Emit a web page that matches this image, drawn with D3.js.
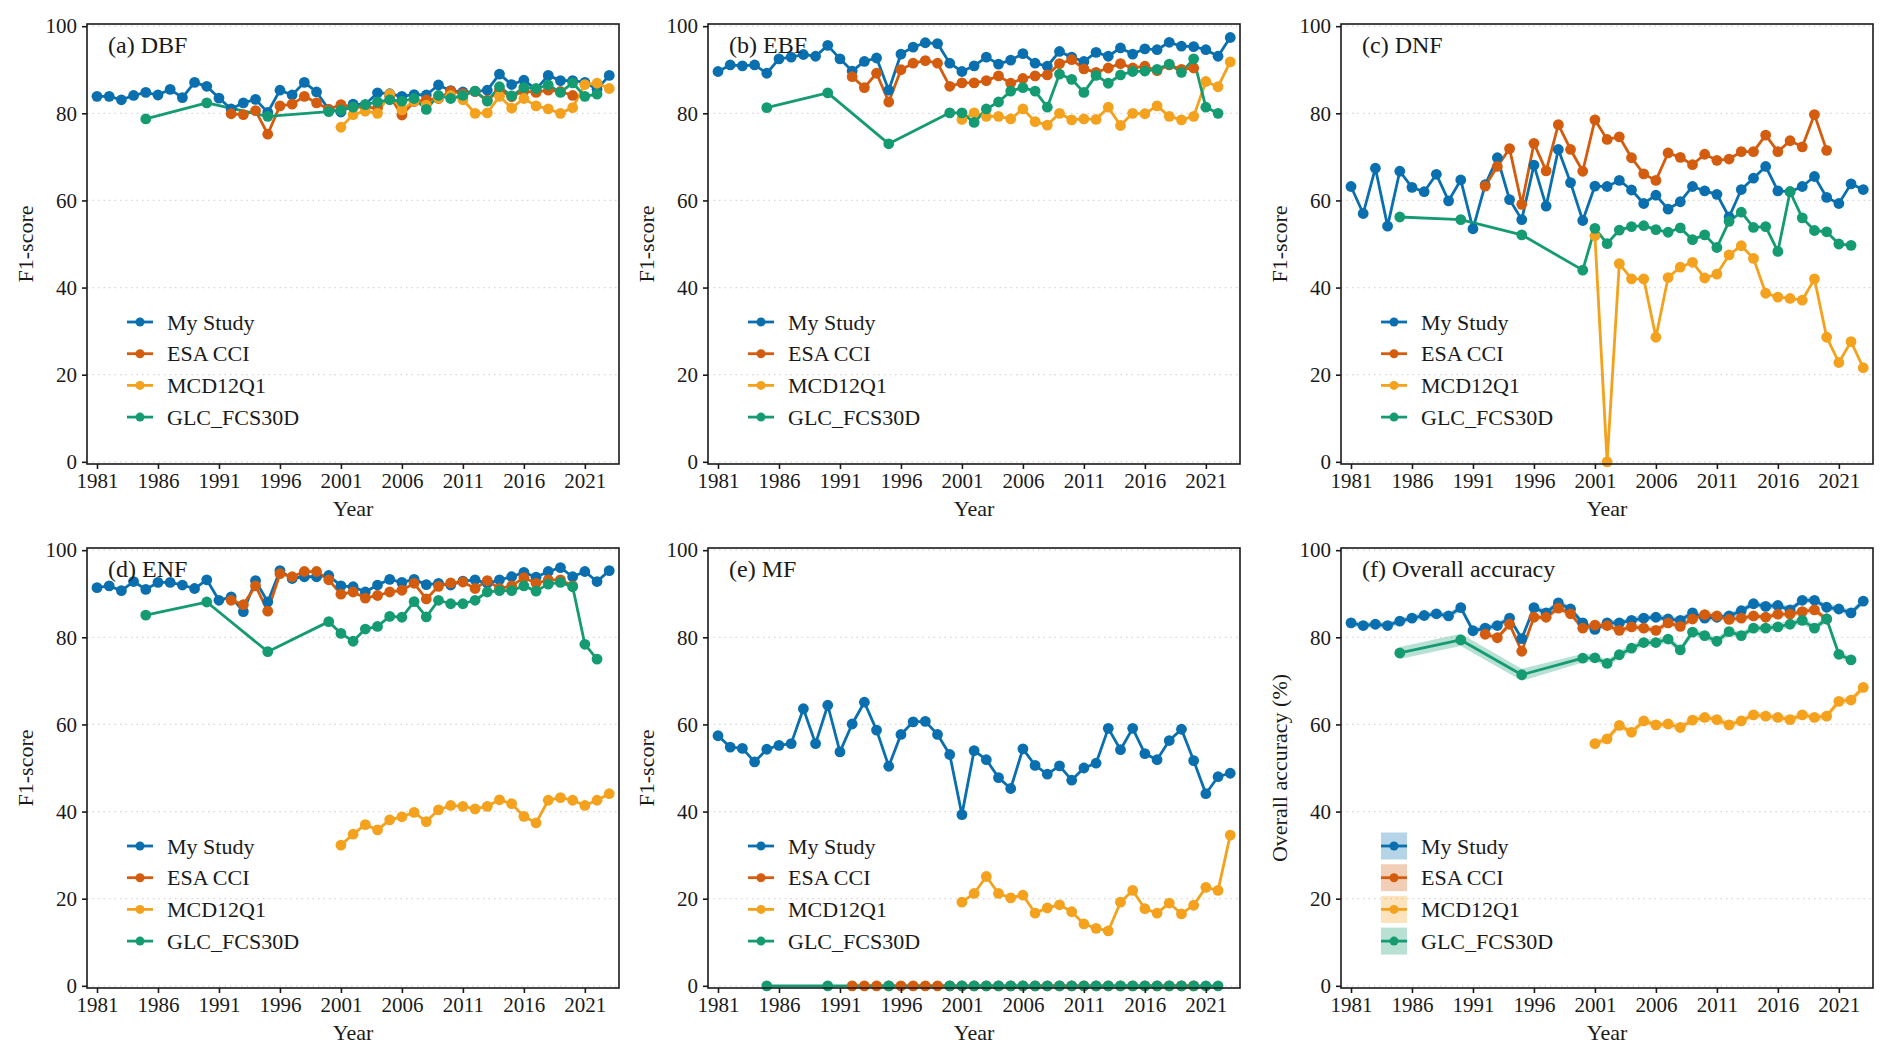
<!DOCTYPE html>
<html>
<head>
<meta charset="utf-8">
<script src="https://cdn.jsdelivr.net/npm/d3@7"></script>
<style>
  body { margin: 0; background: #fff; }
  svg { display: block; font-family: "Liberation Serif", "Times New Roman", Times, serif; }
</style>
</head>
<body>
<svg id="chart"></svg>
<script>
// Series names and colours
const seriesNames = ["My Study", "ESA CCI", "MCD12Q1", "GLC_FCS30D"];
const seriesColors = ["#0a6fae", "#d45c0e", "#f4a21d", "#159b72"];

// Years covered by each product
const yearsMy = d3.range(1981, 2024);
const yearsEsa = d3.range(1992, 2021);
const yearsMcd = d3.range(2001, 2024);
const yearsGlc = [1985, 1990, 1995, 2000, 2001, 2002, 2003, 2004, 2005, 2006, 2007, 2008, 2009,
  2010, 2011, 2012, 2013, 2014, 2015, 2016, 2017, 2018, 2019, 2020, 2021, 2022];

const xTicks = [1981, 1986, 1991, 1996, 2001, 2006, 2011, 2016, 2021];
const yTicks = [0, 20, 40, 60, 80, 100];

// (a) DBF
const dbfMy = [83.9,83.9,83.1,84.1,84.8,84.2,85.5,83.6,87.1,86.2,
  83.5,81.0,82.4,83.2,80.2,85.3,84.2,87.1,84.9,80.9,
  80.3,82.1,82.0,84.7,84.5,83.9,84.3,84.2,86.5,85.2,
  84.9,85.0,85.3,89.0,86.6,87.6,85.5,88.7,87.5,87.5,
  87.1,85.5,88.7];
const dbfEsa = [79.9,79.7,80.6,75.2,81.7,82.1,83.9,82.4,80.9,
  82.0,81.4,81.4,81.2,83.9,79.6,82.7,83.1,83.4,85.1,
  84.5,85.0,83.0,85.3,83.8,85.1,84.8,85.3,85.0,84.1];
const dbfMcd = [76.8,79.7,80.5,80.0,84.4,80.8,82.8,81.9,83.5,84.1,
  83.1,80.0,80.1,83.9,81.2,83.4,81.7,81.0,80.0,81.3,
  86.6,86.9,85.7];
const dbfGlc = [78.7,82.4,79.3,80.4,
  80.7,81.4,82.0,82.6,83.1,82.8,83.4,80.9,84.1,83.4,
  84.1,85.1,82.8,86.1,84.0,85.9,85.7,86.5,84.8,87.0,
  83.9,84.4];

// (b) EBF
const ebfMy = [89.6,91.1,90.9,91.1,89.2,92.5,92.9,93.5,93.1,95.6,
  92.5,89.7,91.9,92.7,85.3,93.6,95.2,96.2,96.0,91.5,
  89.6,90.9,92.9,91.3,92.2,93.7,91.5,90.8,94.2,92.9,
  91.9,94.0,93.1,95.0,93.6,94.8,94.6,96.3,95.4,95.3,
  94.6,93.1,97.4];
const ebfEsa = [88.4,85.9,89.2,82.6,90.0,91.5,92.1,91.5,86.2,
  87.0,87.0,87.5,88.6,86.9,88.0,88.6,88.8,91.4,92.3,
  90.2,89.4,90.4,91.4,90.4,90.8,89.8,91.1,90.1,90.4];
const ebfMcd = [78.6,80.1,79.3,79.3,78.7,81.0,78.1,77.3,80.0,78.5,
  78.7,78.6,81.4,77.2,80.0,79.9,81.7,79.3,78.5,79.3,
  87.3,86.1,91.8];
const ebfGlc = [81.3,84.7,73.0,80.1,
  80.1,77.9,81.0,82.6,85.1,85.9,85.1,81.4,89.0,87.8,
  84.8,88.7,86.9,88.8,89.6,89.7,90.1,91.3,89.4,92.5,
  81.4,80.0];

// (c) DNF
const dnfMy = [63.2,57.0,67.4,54.1,66.7,63.0,62.0,66.0,59.9,64.7,
  53.5,63.6,69.8,60.2,55.6,68.1,58.7,71.7,64.1,55.4,
  63.3,63.2,64.6,62.4,59.3,61.2,58.0,59.7,63.2,62.2,
  61.4,56.2,62.5,65.1,67.8,62.2,62.0,63.2,65.5,60.7,
  59.3,63.8,62.5];
const dnfEsa = [63.3,67.8,71.9,59.1,73.1,66.8,77.4,71.7,66.7,
  78.5,74.0,74.6,69.8,66.1,64.6,70.9,69.9,68.2,70.6,
  69.2,69.5,71.2,71.2,75.0,71.2,73.7,72.3,79.7,71.5];
const dnfMcd = [51.9,0,45.5,42.0,42.0,28.6,42.3,44.7,45.8,42.2,
  43.1,47.5,49.6,46.7,38.7,37.8,37.5,37.1,42.0,28.6,
  22.8,27.6,21.6];
const dnfGlc = [56.2,55.6,52.1,44.0,
  53.6,50.1,53.2,54.0,54.2,53.3,52.7,53.7,51.0,52.1,
  49.2,55.2,57.3,53.8,54.0,48.3,62.0,56.0,53.1,52.8,
  50.0,49.7];

// (d) ENF
const enfMy = [91.4,91.8,90.7,92.8,91.0,92.6,92.6,92.0,91.2,93.2,
  88.5,89.3,85.9,93.0,88.1,95.3,93.5,93.9,93.9,94.2,
  91.8,91.6,90.4,92.0,93.3,92.6,93.3,92.1,92.4,92.0,
  92.9,93.2,92.4,93.2,93.9,94.9,93.8,95.1,96.0,93.9,
  95.1,92.8,95.3];
const enfEsa = [88.5,87.5,91.8,86.0,94.6,93.9,95.1,95.1,93.2,
  89.9,90.4,89.0,89.6,90.4,90.8,92.4,88.8,91.7,92.5,
  92.7,91.2,93.0,91.2,91.8,93.7,92.4,93.2,93.2,91.8];
const enfMcd = [32.3,34.8,37.0,35.8,38.1,38.8,39.8,37.7,40.4,41.4,
  41.2,40.6,41.2,42.7,41.8,38.9,37.4,42.6,43.2,42.6,
  41.4,42.6,44.1];
const enfGlc = [85.1,88.1,76.7,83.6,
  80.9,79.1,81.9,82.5,84.8,84.6,88.2,84.7,88.5,87.7,
  87.7,88.5,90.4,90.7,90.7,91.8,90.6,92.2,92.6,91.6,
  78.4,75.0];

// (e) MF
const mfMy = [57.4,54.8,54.5,51.4,54.3,55.2,55.6,63.6,55.6,64.4,
  53.7,60.1,65.1,58.7,50.4,57.7,60.6,60.7,57.7,53.1,
  39.3,54.0,51.9,47.8,45.3,54.4,50.6,48.6,50.5,47.2,
  50.0,51.1,59.1,54.2,59.1,53.3,51.9,56.3,58.9,51.7,
  44.1,48.0,48.8];
const mfEsa = [0,0,0,0,0,0,0,0,0,
  0,0,0,0,0,0,0,0,0,0,
  0,0,0,0,0,0,0,0,0,0];
const mfMcd = [19.2,21.2,25.1,21.2,20.2,20.8,16.7,17.9,18.6,17.0,
  14.2,13.2,12.6,19.2,21.9,17.7,16.7,19.0,16.5,18.5,
  22.6,21.9,34.6];
const mfGlc = [0,0,0,0,
  0,0,0,0,0,0,0,0,0,0,
  0,0,0,0,0,0,0,0,0,0,
  0,0];

// (f) Overall accuracy
const oaMy = [83.3,82.7,83.0,82.7,83.7,84.4,85.0,85.4,84.9,86.8,
  81.5,82.1,82.7,84.4,79.7,86.8,85.6,87.9,86.5,83.3,
  81.8,83.3,83.3,83.9,84.4,84.6,84.2,83.9,85.6,84.4,
  84.6,84.9,86.1,87.7,87.1,87.3,86.3,88.5,88.5,86.9,
  86.5,85.6,88.3];
const oaEsa = [80.7,79.9,83.0,76.8,84.6,84.6,86.7,85.4,82.1,
  82.8,82.7,81.6,82.4,82.1,81.6,83.3,82.5,84.2,85.2,
  84.9,84.1,84.4,84.9,84.6,85.3,85.3,85.9,86.3,84.2];
const oaMcd = [55.6,56.7,59.8,58.2,60.8,59.9,60.1,59.3,61.0,61.6,
  61.1,59.9,60.8,62.2,61.9,61.6,61.1,62.2,61.6,61.9,
  65.3,65.6,68.5];
const oaGlc = [76.4,79.4,71.4,75.2,
  75.3,74.0,76.0,77.5,78.8,78.8,79.6,77.1,81.2,80.4,
  79.1,81.3,80.4,82.1,82.1,82.4,83.0,83.9,82.1,84.2,
  76.1,74.8];
// half width of the confidence band in (f)
const oaBandMy = 0.7;
const oaBandEsa = 0.7;
const oaBandMcd = 0.8;
const oaBandGlc = [1.4,1.4,1.4,1.0,
  0.8,0.8,0.8,0.8,0.8,0.8,0.8,0.8,0.8,0.8,
  0.8,0.8,0.8,0.8,0.8,0.8,0.8,0.8,0.8,0.8,
  0.8,0.8];

const seriesYears = [yearsMy, yearsEsa, yearsMcd, yearsGlc];

const panels = [
  {title: "(a) DBF", ylab: "F1-score", values: [dbfMy, dbfEsa, dbfMcd, dbfGlc]},
  {title: "(b) EBF", ylab: "F1-score", values: [ebfMy, ebfEsa, ebfMcd, ebfGlc]},
  {title: "(c) DNF", ylab: "F1-score", values: [dnfMy, dnfEsa, dnfMcd, dnfGlc]},
  {title: "(d) ENF", ylab: "F1-score", values: [enfMy, enfEsa, enfMcd, enfGlc]},
  {title: "(e) MF", ylab: "F1-score", values: [mfMy, mfEsa, mfMcd, mfGlc]},
  {title: "(f) Overall accuracy", ylab: "Overall accuracy (%)", values: [oaMy, oaEsa, oaMcd, oaGlc],
   bands: [oaBandMy, oaBandEsa, oaBandMcd, oaBandGlc]}
];

// Layout
const width = 1892;
const height = 1058;
const colLefts = [87, 708, 1341];
const rowTops = [24, 548];
const plotW = 532;
const plotH = 440;

const svg = d3.select("#chart").attr("width", width).attr("height", height);
svg.append("rect").attr("width", width).attr("height", height).attr("fill", "#fff");

function drawPanel(p, i) {
  const left = colLefts[i % 3];
  const top = rowTops[Math.floor(i / 3)];

  const x = d3.scaleLinear().domain([1980.18, 2023.8]).range([0, plotW]);
  const y = d3.scaleLinear().domain([-0.5, 100.5]).range([plotH, 0]);

  const g = svg.append("g").attr("transform", `translate(${left},${top})`);

  // grid
  g.selectAll("line.grid")
    .data(yTicks)
    .join("line")
    .attr("class", "grid")
    .attr("x1", 0).attr("x2", plotW)
    .attr("y1", d => y(d)).attr("y2", d => y(d))
    .attr("stroke", "#d6d6d6")
    .attr("stroke-width", 1.2)
    .attr("stroke-dasharray", "1.5,4");

  const series = p.values.map((vals, s) => ({
    name: seriesNames[s],
    color: seriesColors[s],
    points: vals.map((v, k) => ({
      year: seriesYears[s][k],
      value: v,
      band: p.bands ? (Array.isArray(p.bands[s]) ? p.bands[s][k] : p.bands[s]) : 0
    }))
  }));

  // ribbons
  if (p.bands) {
    const area = d3.area()
      .x(d => x(d.year))
      .y0(d => y(d.value - d.band))
      .y1(d => y(d.value + d.band));
    g.selectAll("path.band")
      .data(series)
      .join("path")
      .attr("class", "band")
      .attr("d", d => area(d.points))
      .attr("fill", d => d.color)
      .attr("fill-opacity", 0.3);
  }

  const line = d3.line().x(d => x(d.year)).y(d => y(d.value));

  g.selectAll("path.series")
    .data(series)
    .join("path")
    .attr("class", "series")
    .attr("d", d => line(d.points))
    .attr("fill", "none")
    .attr("stroke", d => d.color)
    .attr("stroke-width", 2.8)
    .attr("stroke-linejoin", "round");

  series.forEach(s => {
    g.append("g").selectAll("circle")
      .data(s.points)
      .join("circle")
      .attr("cx", d => x(d.year))
      .attr("cy", d => y(d.value))
      .attr("r", 5.4)
      .attr("fill", s.color);
  });

  // panel border
  g.append("rect")
    .attr("width", plotW).attr("height", plotH)
    .attr("fill", "none")
    .attr("stroke", "#1a1a1a")
    .attr("stroke-width", 1.6);

  // axes
  const xAxis = g.append("g")
    .attr("transform", `translate(0,${plotH})`)
    .call(d3.axisBottom(x).tickValues(xTicks).tickFormat(d3.format("d")).tickSize(5).tickPadding(4));
  const yAxis = g.append("g")
    .call(d3.axisLeft(y).tickValues(yTicks).tickSize(5).tickPadding(5));

  [xAxis, yAxis].forEach(a => {
    a.select(".domain").remove();
    a.selectAll(".tick line").attr("stroke", "#1a1a1a").attr("stroke-width", 1.6);
    a.selectAll(".tick text")
      .attr("fill", "#1a1a1a")
      .style("font-size", "21px")
      .style("font-family", "'Liberation Serif', 'Times New Roman', serif");
  });

  // axis titles
  g.append("text")
    .attr("x", plotW / 2)
    .attr("y", plotH + 52)
    .attr("text-anchor", "middle")
    .attr("font-size", 22)
    .attr("fill", "#1a1a1a")
    .text("Year");

  g.append("text")
    .attr("transform", `translate(-54,${plotH / 2}) rotate(-90)`)
    .attr("text-anchor", "middle")
    .attr("font-size", 22)
    .attr("fill", "#1a1a1a")
    .text(p.ylab);

  // panel title
  g.append("text")
    .attr("x", 21)
    .attr("y", 29)
    .attr("font-size", 24)
    .attr("fill", "#1a1a1a")
    .text(p.title);

  // legend
  const legend = g.append("g").attr("transform", "translate(40,298)");
  const rows = legend.selectAll("g")
    .data(seriesNames)
    .join("g")
    .attr("transform", (d, k) => `translate(0,${k * 31.7})`);

  if (p.bands) {
    rows.append("rect")
      .attr("x", 0).attr("y", -13.5)
      .attr("width", 26).attr("height", 27)
      .attr("fill", (d, k) => seriesColors[k])
      .attr("fill-opacity", 0.3);
  }
  rows.append("line")
    .attr("x1", 0).attr("x2", 26)
    .attr("stroke", (d, k) => seriesColors[k])
    .attr("stroke-width", 2.8);
  rows.append("circle")
    .attr("cx", 13)
    .attr("r", 4.5)
    .attr("fill", (d, k) => seriesColors[k]);
  rows.append("text")
    .attr("x", 40)
    .attr("dy", "0.35em")
    .attr("font-size", 22)
    .attr("fill", "#1a1a1a")
    .text(d => d);
}

panels.forEach(drawPanel);
</script>
</body>
</html>
